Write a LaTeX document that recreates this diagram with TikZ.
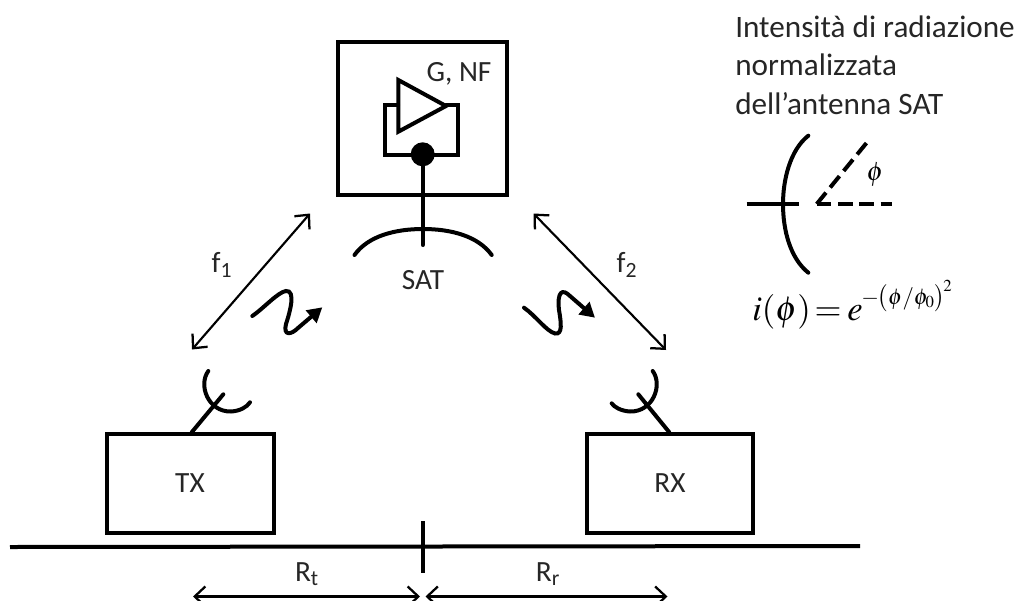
\documentclass[tikz,border=0pt]{standalone}
\usepackage{mathptmx}
\usepackage{fontspec}
\setmainfont{Carlito}
\usetikzlibrary{arrows.meta}
\tikzset{
  heavy/.style={line width=3pt,line cap=round,line join=miter},
  mid/.style={line width=3pt,line cap=round},
  dim/.style={line width=1.6pt,{Straight Barb[length=8pt,width=15pt,line width=1.7pt]}-{Straight Barb[length=8pt,width=15pt,line width=1.7pt]}},
  block/.style={draw,line width=3pt,inner sep=0pt,outer sep=0pt},
  wave/.style={line width=3pt,line cap=round,-{Triangle[length=11pt,width=12pt]}},
  lab/.style={font=\fontsize{22}{26}\selectfont,text=black!85,inner sep=0pt},
  headtxt/.style={font=\fontsize{23.4}{28}\selectfont,text=black!85,inner sep=0pt,anchor=base west}
}
\begin{document}
\begin{tikzpicture}[x=0.75pt,y=-0.75pt]
\useasboundingbox (0,0) rectangle (1024,600);
% blocks
\node[block,minimum width=126.2pt,minimum height=115pt] (sat) at (422.6,118.4) {};
\node[block,minimum width=125.8pt,minimum height=74pt] (tx) at (190.5,483.5) {};
\node[block,minimum width=124.8pt,minimum height=74pt] (rx) at (670,483.5) {};
\node[lab] (txl) at (190,483) {TX};
\node[lab] (rxl) at (670,483) {RX};
\node[lab] (gnf) at (459,74) {G, NF};
\node[lab] (satl) at (423,280) {SAT};
\node[lab] (f1) at (222,265) {f\textsubscript{1}};
\node[lab] (f2) at (627,265) {f\textsubscript{2}};
\node[lab] (rt) at (307,574) {R\textsubscript{t}};
\node[lab] (rr) at (548,574) {R\textsubscript{r}};
% amplifier
\draw[heavy] (398.3,80) -- (446,106) -- (398.3,131.7) -- cycle;
\draw[heavy] (398,105) -- (385,105) -- (385,155) -- (458,155) -- (458,105) -- (446,105);
\node[circle,fill=black,minimum size=18pt,inner sep=0pt] (dot) at (422.7,154.3) {};
% SAT antenna
\coordinate (satend) at (422.7,245);
\draw[mid] (dot) -- (satend);
\draw[mid] (354.5,255) .. controls (368,236) and (395,229) .. (423,229) .. controls (451,229) and (478,236) .. (491.7,255);
% links
\coordinate (a1) at (310,213.5); \coordinate (a2) at (192,349.5);
\coordinate (b1) at (533.5,213.5); \coordinate (b2) at (666,350);
\draw[dim] (a1) -- (a2);
\draw[dim] (b1) -- (b2);
% waves
\draw[wave] (252.3,316) .. controls (264,308) and (278,292) .. (286,291) .. controls (296,290) and (290,312) .. (286,324) .. controls (283,336) and (291,335) .. (298,328) -- (322.3,307.3);
\draw[wave] (524,307.7) .. controls (536,316) and (546,331) .. (555,333.5) .. controls (563,335) and (561,322) .. (559,310) .. controls (557,292) and (562,288) .. (570,296) -- (595,317.7);
% TX antenna
\coordinate (txs) at (191.7,432.3); \coordinate (txe) at (223.3,394.3);
\draw[mid] (txs) -- (txe);
\draw[mid] (208.3,371) .. controls (198,385) and (208,412) .. (231,411.5) .. controls (240,411) and (247,407) .. (250,402.3);
% RX antenna
\coordinate (rxs) at (669.3,432.3); \coordinate (rxe) at (638.3,394.3);
\draw[mid] (rxs) -- (rxe);
\draw[mid] (652.7,371) .. controls (663,385) and (653,412) .. (630,411.5) .. controls (621,411) and (614,407) .. (611.7,403.3);
% ground
\coordinate (g1) at (10,547); \coordinate (g2) at (860,546);
\coordinate (t1) at (422.5,521); \coordinate (t2) at (422.5,573);
\draw[line width=3pt] (g1) -- (g2);
\draw[line width=3pt] (t1) -- (t2);
\coordinate (d1) at (193,596.5); \coordinate (d2) at (420,596.5);
\coordinate (d3) at (425.5,596.5); \coordinate (d4) at (667.5,596.5);
\draw[dim] (d1) -- (d2);
\draw[dim] (d3) -- (d4);
% radiation pattern
\node[headtxt] (h1) at (735,37) {Intensità di radiazione};
\node[headtxt] (h2) at (735,75) {normalizzata};
\node[headtxt] (h3) at (735,114) {dell’antenna SAT};
\draw[mid] (808.3,135.7) .. controls (790,150) and (783,180) .. (783,204) .. controls (783,230) and (790,258) .. (808.3,272.7);
\coordinate (p1) at (746.7,204); \coordinate (p2) at (799,204);
\draw[line width=3pt] (p1) -- (p2);
\coordinate (q0) at (816.7,204); \coordinate (q1) at (891.7,204); \coordinate (q2) at (866.7,142.7);
\draw[line width=3pt,dash pattern=on 11pt off 5pt] (q0) -- (q1);
\draw[line width=3pt,dash pattern=on 11pt off 5pt] (q0) -- (q2);
\node[inner sep=0pt] (phi) at (875,175) {\fontsize{20}{24}\selectfont $\phi$};
\node[inner sep=0pt,anchor=base west] (formula) at (752,320) {\fontsize{26}{31}\selectfont $i(\phi)\mkern2mu{=}\mkern3mu e$\raisebox{12pt}{\fontsize{17}{20}\selectfont$\mkern-1mu-\mkern-3mu\left(\rule[-6pt]{0pt}{18pt}\phi/\phi_0\right)^{\!2}$}};
\end{tikzpicture}
\end{document}
